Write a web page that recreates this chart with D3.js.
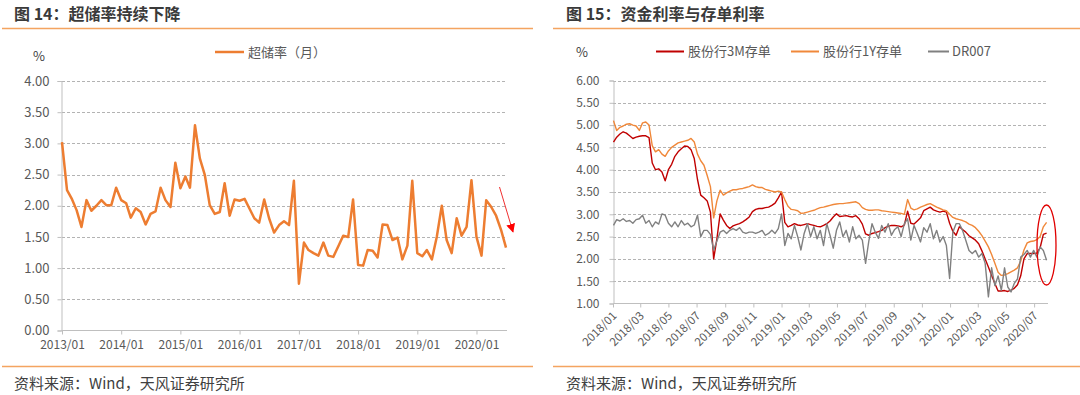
<!DOCTYPE html>
<html><head><meta charset="utf-8">
<script src="https://cdn.jsdelivr.net/npm/d3@7"></script>
<style>
body{margin:0;background:#fff}
svg{display:block;font-family:"Noto Sans CJK SC","Noto Sans",sans-serif}
</style>
</head><body>
<svg id="chart" width="1080" height="395"></svg>
<script>
// ---------- Left chart data: 超储率（月）, 2013/01 .. 2020/07 ----------
const reserveStart = "2013-01";
const reserveRatio = [
  3.02, 2.25, 2.12, 1.93, 1.66, 2.09, 1.92, 2.00, 2.09, 2.01, 2.01, 2.29,
  2.09, 2.04, 1.81, 1.96, 1.90, 1.70, 1.87, 1.91, 2.29, 2.09, 1.98, 2.69,
  2.28, 2.47, 2.29, 3.29, 2.76, 2.49, 2.01, 1.87, 1.90, 2.36, 1.84, 2.10,
  2.08, 2.11, 1.96, 1.80, 1.73, 2.10, 1.80, 1.57, 1.69, 1.75, 1.69, 2.40,
  0.75, 1.41, 1.29, 1.24, 1.20, 1.41, 1.20, 1.18, 1.35, 1.52, 1.50, 2.10,
  1.05, 1.04, 1.29, 1.28, 1.17, 1.70, 1.69, 1.45, 1.49, 1.14, 1.36, 2.40,
  1.24, 1.19, 1.29, 1.14, 1.50, 2.00, 1.45, 1.24, 1.80, 1.52, 1.66, 2.41,
  1.50, 1.20, 2.09, 1.98, 1.84, 1.61, 1.33
];
const leftXTicks = ["2013/01","2014/01","2015/01","2016/01","2017/01","2018/01","2019/01","2020/01"];
const leftYTicks = [0, 0.5, 1, 1.5, 2, 2.5, 3, 3.5, 4];

// ---------- Right chart data: weekly readings from 2018-01-02 ----------
const rateStart = "2018-01-02";
const cd3M = [
  4.62, 4.73, 4.80, 4.85, 4.82, 4.76, 4.70, 4.73, 4.75, 4.76,
  4.76, 4.72, 4.15, 4.00, 4.02, 3.95, 3.75, 4.00, 4.12, 4.30,
  4.40, 4.47, 4.53, 4.52, 4.45, 4.25, 3.78, 3.43, 3.37, 3.30,
  3.05, 2.00, 2.45, 3.01, 2.87, 2.75, 2.68, 2.74, 2.77, 2.79,
  2.83, 2.88, 2.94, 3.06, 3.11, 3.13, 3.13, 3.15, 3.16, 3.20,
  3.25, 3.37, 3.50, 2.82, 2.72, 2.75, 2.79, 2.76, 2.75, 2.77,
  2.79, 2.77, 2.75, 2.73, 2.72, 2.75, 2.79, 2.85, 2.94, 3.01,
  2.95, 2.96, 2.97, 2.95, 2.94, 2.97, 2.90, 2.78, 2.56, 2.53,
  2.57, 2.59, 2.61, 2.64, 2.70, 2.73, 2.75, 2.75, 2.74, 2.72,
  2.76, 3.07, 2.80, 2.78, 2.85, 2.92, 3.08, 3.12, 3.16, 3.10,
  3.07, 3.05, 3.07, 3.05, 2.80, 2.62, 2.53, 2.72, 2.66, 2.60,
  2.52, 2.47, 2.42, 2.34, 2.18, 2.00, 1.82, 1.63, 1.45, 1.28,
  1.28, 1.29, 1.27, 1.30, 1.34, 1.42, 1.62, 2.00, 2.12, 2.12,
  2.12, 2.13, 2.25, 2.55, 2.58
];
const cd1Y = [
  5.10, 4.88, 4.95, 4.98, 5.02, 5.03, 5.00, 4.98, 4.88, 5.05,
  5.07, 5.00, 4.54, 4.40, 4.45, 4.35, 4.30, 4.42, 4.50, 4.55,
  4.60, 4.62, 4.64, 4.66, 4.70, 4.62, 4.35, 4.20, 4.10, 3.87,
  3.62, 2.92, 3.30, 3.54, 3.43, 3.48, 3.52, 3.55, 3.55, 3.57,
  3.58, 3.60, 3.62, 3.66, 3.62, 3.60, 3.60, 3.56, 3.54, 3.52,
  3.50, 3.52, 3.50, 3.33, 3.18, 3.11, 3.10, 3.08, 3.02, 3.03,
  3.05, 3.07, 3.09, 3.12, 3.15, 3.16, 3.18, 3.20, 3.22, 3.23,
  3.24, 3.24, 3.25, 3.26, 3.27, 3.28, 3.24, 3.15, 3.11, 3.09,
  3.09, 3.10, 3.10, 3.08, 3.07, 3.06, 3.05, 3.04, 3.03, 3.02,
  3.00, 3.33, 3.14, 3.10, 3.12, 3.16, 3.19, 3.22, 3.24, 3.20,
  3.16, 3.13, 3.10, 3.08, 3.00, 2.93, 2.90, 2.88, 2.86, 2.83,
  2.78, 2.75, 2.70, 2.62, 2.52, 2.40, 2.27, 2.10, 1.90, 1.70,
  1.63, 1.64, 1.67, 1.71, 1.75, 1.80, 1.95, 2.20, 2.36, 2.39,
  2.40, 2.43, 2.50, 2.72, 2.82
];
const dr007 = [
  2.75, 2.88, 2.85, 2.90, 2.84, 2.86, 2.80, 2.88, 2.90, 2.98,
  2.80, 2.86, 2.72, 2.83, 2.78, 3.01, 2.98, 2.80, 2.72, 2.83,
  2.72, 2.86, 2.76, 2.80, 2.72, 2.76, 2.98, 2.50, 2.64, 2.64,
  2.55, 2.20, 2.40, 2.60, 2.64, 2.57, 2.64, 2.68, 2.64, 2.70,
  2.60, 2.57, 2.60, 2.60, 2.57, 2.60, 2.64, 2.53, 2.57, 2.64,
  2.57, 2.68, 3.01, 2.30, 2.57, 2.45, 2.75, 2.50, 2.20, 2.57,
  2.79, 2.50, 2.72, 2.45, 2.64, 2.30, 2.79, 2.53, 2.24, 2.64,
  2.83, 2.50, 2.64, 2.38, 2.72, 2.45, 2.53, 2.42, 1.90, 2.40,
  2.79, 2.60, 2.46, 2.75, 2.60, 2.79, 2.53, 2.66, 2.72, 2.50,
  2.79, 2.90, 2.42, 2.75, 2.57, 2.38, 2.70, 2.60, 2.79, 2.45,
  2.64, 2.38, 2.50, 2.30, 1.56, 2.60, 2.79, 2.79, 2.64, 2.42,
  2.19, 2.12, 2.19, 2.04, 2.12, 1.90, 1.15, 1.80, 1.40, 1.62,
  1.30, 1.80, 1.37, 1.26, 1.45, 1.55, 2.04, 2.10, 2.19, 2.04,
  2.19, 2.04, 2.27, 2.19, 1.97
];
const rightXTicks = ["2018/01","2018/03","2018/05","2018/07","2018/09","2018/11",
  "2019/01","2019/03","2019/05","2019/07","2019/09","2019/11",
  "2020/01","2020/03","2020/05","2020/07"];
const rightYTicks = [1, 1.5, 2, 2.5, 3, 3.5, 4, 4.5, 5, 5.5, 6];
const seriesNames = ["股份行3M存单", "股份行1Y存单", "DR007"];
const seriesColors = ["#C00000", "#F0883A", "#808080"];

// ---------- drawing ----------
const svg = d3.select("#chart");
const txt = "#595959", gridC = "#b3b3b3", axisC = "#bfbfbf";
const fmt2 = d3.format(".2f");

function panel(x0, x1, tx, title) {
  svg.append("text").attr("x", tx).attr("y", 20).attr("font-size", 16)
    .attr("font-weight", "bold").attr("fill", "#3a3a3a").text(title);
  svg.append("line").attr("x1", x0).attr("x2", x1).attr("y1", 28.5).attr("y2", 28.5)
    .attr("stroke", "#F4A460").attr("stroke-width", 1.5);
  svg.append("line").attr("x1", x0).attr("x2", x1).attr("y1", 366.5).attr("y2", 366.5)
    .attr("stroke", "#F4A460").attr("stroke-width", 1.5);
  svg.append("text").attr("x", tx).attr("y", 389).attr("font-size", 15)
    .attr("fill", "#404040").text("资料来源：Wind，天风证券研究所");
}
panel(2, 533, 14, "图 14：超储率持续下降");
panel(553, 1080, 566, "图 15：资金利率与存单利率");

// ===== Left chart =====
{
  const parseM = d3.timeParse("%Y-%m");
  const t0 = parseM(reserveStart);
  const months = reserveRatio.map((_, i) => d3.timeMonth.offset(t0, i));
  const data = months.map((d, i) => ({d, v: reserveRatio[i]}));
  const x = d3.scaleTime().domain([months[0], months[months.length - 1]]).range([62, 506]);
  const y = d3.scaleLinear().domain([0, 4]).range([330.5, 81]);
  const g = svg.append("g");
  g.selectAll(".gl").data(leftYTicks.filter(v => v > 0)).join("line")
    .attr("x1", 62).attr("x2", 507).attr("y1", d => Math.round(y(d)) + 0.5).attr("y2", d => Math.round(y(d)) + 0.5)
    .attr("stroke", gridC).attr("stroke-dasharray", "3,2");
  const ya = d3.axisLeft(y).tickValues(leftYTicks).tickFormat(fmt2).tickSize(4).tickPadding(8);
  const yg = g.append("g").attr("transform", "translate(61.5,0)").call(ya);
  yg.select(".domain").attr("stroke", axisC);
  yg.selectAll(".tick line").attr("stroke", axisC);
  yg.selectAll("text").attr("fill", txt).attr("font-size", 13).attr("font-family", "'Noto Sans CJK SC'");
  const parseT = d3.timeParse("%Y/%m");
  const xa = d3.axisBottom(x).tickValues(leftXTicks.map(parseT)).tickFormat(d3.timeFormat("%Y/%m")).tickSize(4).tickSizeOuter(0).tickPadding(6);
  const xg = g.append("g").attr("transform", "translate(0,330.5)").call(xa);
  xg.select(".domain").attr("stroke", axisC).attr("d", "M61.5,0H507");
  xg.selectAll(".tick line").attr("stroke", axisC);
  xg.selectAll("text").attr("fill", txt).attr("font-size", 12).attr("font-family", "'Noto Sans CJK SC'");
  g.append("path").datum(data)
    .attr("d", d3.line().x(d => x(d.d)).y(d => y(d.v)))
    .attr("fill", "none").attr("stroke", "#ED7D31").attr("stroke-width", 2.5).attr("stroke-linejoin", "round");
  svg.append("text").attr("x", 33).attr("y", 61).attr("font-size", 13).attr("fill", "#404040").text("%");
  svg.append("line").attr("x1", 215).attr("x2", 244).attr("y1", 52).attr("y2", 52)
    .attr("stroke", "#ED7D31").attr("stroke-width", 2.5);
  svg.append("text").attr("x", 248).attr("y", 56.5).attr("font-size", 13).attr("fill", txt).text("超储率（月）");
  const defs = svg.append("defs");
  defs.append("marker").attr("id", "ah").attr("viewBox", "0 0 10 10").attr("refX", 9).attr("refY", 5)
    .attr("markerWidth", 9).attr("markerHeight", 9).attr("orient", "auto-start-reverse").attr("markerUnits", "userSpaceOnUse")
    .append("path").attr("d", "M0,0L10,5L0,10z").attr("fill", "#FF0000");
  svg.append("line").attr("x1", 499.5).attr("y1", 187).attr("x2", 513).attr("y2", 232)
    .attr("stroke", "#F03030").attr("stroke-width", 1).attr("marker-end", "url(#ah)");
}

// ===== Right chart =====
{
  const parseD = d3.timeParse("%Y-%m-%d");
  const t0 = parseD(rateStart);
  const dates = cd3M.map((_, k) => d3.timeDay.offset(t0, 7 * k));
  const x = d3.scaleTime().domain([parseD("2018-01-01"), parseD("2020-07-30")]).range([613, 1047.5]);
  const y = d3.scaleLinear().domain([1, 6]).range([303.5, 80.5]);
  const g = svg.append("g");
  g.selectAll(".gl").data(rightYTicks.filter(v => v > 1)).join("line")
    .attr("x1", 613).attr("x2", 1048).attr("y1", d => Math.round(y(d)) + 0.5).attr("y2", d => Math.round(y(d)) + 0.5)
    .attr("stroke", gridC).attr("stroke-dasharray", "3,2");
  const ya = d3.axisLeft(y).tickValues(rightYTicks).tickFormat(fmt2).tickSize(4).tickPadding(10);
  const yg = g.append("g").attr("transform", "translate(613.5,0)").call(ya);
  yg.select(".domain").attr("stroke", axisC);
  yg.selectAll(".tick line").attr("stroke", axisC);
  yg.selectAll("text").attr("fill", txt).attr("font-size", 12).attr("font-family", "'Noto Sans CJK SC'");
  const parseT = d3.timeParse("%Y/%m");
  const xa = d3.axisBottom(x).tickValues(rightXTicks.map(parseT)).tickFormat(d3.timeFormat("%Y/%m")).tickSize(4).tickSizeOuter(0);
  const xg = g.append("g").attr("transform", "translate(0,303.5)").call(xa);
  xg.select(".domain").attr("stroke", axisC).attr("d", "M613.5,0H1048");
  xg.selectAll(".tick line").attr("stroke", axisC);
  xg.selectAll("text").attr("fill", txt).attr("font-size", 11.5).attr("font-family", "'Noto Sans CJK SC'")
    .attr("text-anchor", "end").attr("dy", 0).attr("y", 0)
    .attr("transform", "translate(4,13) rotate(-45)");
  const seriesVals = [cd3M, cd1Y, dr007];
  [0, 1, 2].forEach(s => {
    const data = dates.map((d, k) => ({d, v: seriesVals[s][k]}));
    g.append("path").datum(data)
      .attr("d", d3.line().x(d => x(d.d)).y(d => y(d.v)))
      .attr("fill", "none").attr("stroke", seriesColors[s]).attr("stroke-width", 1.4).attr("stroke-linejoin", "round");
  });
  svg.append("text").attr("x", 576).attr("y", 57).attr("font-size", 13).attr("fill", "#404040").text("%");
  const lx = [[656, 684, 688], [791, 819, 823], [928, 949, 952]];
  seriesNames.forEach((n, i) => {
    svg.append("line").attr("x1", lx[i][0]).attr("x2", lx[i][1]).attr("y1", 51.5).attr("y2", 51.5)
      .attr("stroke", seriesColors[i]).attr("stroke-width", 2);
    svg.append("text").attr("x", lx[i][2]).attr("y", 56).attr("font-size", 13).attr("fill", txt).text(n);
  });
  svg.append("ellipse").attr("cx", 1046.5).attr("cy", 245).attr("rx", 9.5).attr("ry", 40)
    .attr("fill", "none").attr("stroke", "#E00000").attr("stroke-width", 1.3);
}
</script>
</body></html>
